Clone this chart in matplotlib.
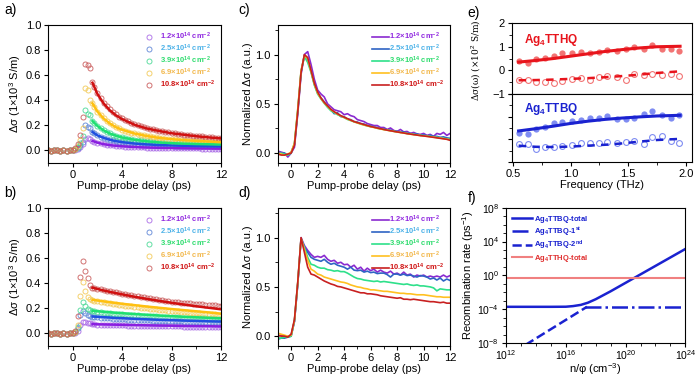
import numpy as np
import matplotlib
matplotlib.use('Agg')
import matplotlib.pyplot as plt
from matplotlib.ticker import MultipleLocator, NullFormatter, FixedLocator, FormatStrFormatter

plt.rcParams['font.family'] = ['Liberation Sans', 'DejaVu Sans']
plt.rcParams['mathtext.fontset'] = 'custom'
plt.rcParams['mathtext.rm'] = 'Liberation Sans'
plt.rcParams['mathtext.it'] = 'Liberation Sans:italic'
plt.rcParams['mathtext.bf'] = 'Liberation Sans:bold'
plt.rcParams['font.size'] = 8
plt.rcParams['axes.linewidth'] = 0.8

# fluences used in panels a-d
fluences = ['1.2', '2.5', '3.9', '6.9', '10.8']
scatter_colors = ['#a868e6', '#5c84d6', '#48d994', '#f2c955', '#c95a5a']
fit_colors = ['#8a1ee0', '#1e4fe0', '#1ee070', '#ffc010', '#d01010']
text_colors = ['#9028e0', '#4cb2e8', '#2edc6e', '#f2b84c', '#d01414']
line_colors = ['#8a2ad0', '#2f64c4', '#2ee08a', '#ffc020', '#c82020']

# ---- panels a/b: scatter (time in ps) ----
t_pre = [-2.0, -1.75, -1.5, -1.25, -1.0, -0.75, -0.5, -0.25, 0.0]
t_rise = [0.2, 0.4, 0.6, 0.8, 1.0, 1.2, 1.4, 1.6]
t_tail = list(np.arange(1.75, 12.01, 0.25))
pre_zero = [0.0, -0.005, 0.006, 0.0, -0.004, 0.005, -0.002, 0.003, 0.006]

a_rise = [
    [0.005, 0.015, 0.03, 0.05, 0.09, 0.097, 0.095, 0.075],
    [0.01, 0.02, 0.04, 0.07, 0.2, 0.185, 0.18, 0.147],
    [0.01, 0.03, 0.06, 0.115, 0.32, 0.29, 0.285, 0.235],
    [0.015, 0.035, 0.08, 0.18, 0.5, 0.485, 0.40, 0.375],
    [0.02, 0.05, 0.12, 0.27, 0.69, 0.68, 0.655, 0.545],
]
a_tail = [
    [0.07, 0.063, 0.057, 0.051, 0.046, 0.043, 0.04, 0.037, 0.035, 0.033,
     0.031, 0.03, 0.028, 0.027, 0.026, 0.025, 0.024, 0.023, 0.023, 0.022,
     0.021, 0.021, 0.02, 0.02, 0.019, 0.019, 0.018, 0.018, 0.018, 0.017,
     0.017, 0.017, 0.016, 0.016, 0.016, 0.015, 0.015, 0.015, 0.015, 0.014,
     0.014, 0.014],
    [0.135, 0.122, 0.111, 0.101, 0.093, 0.087, 0.081, 0.076, 0.071, 0.067,
     0.064, 0.061, 0.058, 0.056, 0.054, 0.052, 0.05, 0.049, 0.047, 0.046,
     0.045, 0.044, 0.043, 0.042, 0.041, 0.04, 0.039, 0.039, 0.038, 0.037,
     0.037, 0.036, 0.036, 0.035, 0.035, 0.034, 0.034, 0.033, 0.033, 0.033,
     0.032, 0.032],
    [0.22, 0.197, 0.178, 0.162, 0.148, 0.137, 0.127, 0.119, 0.111, 0.105,
     0.1, 0.095, 0.09, 0.087, 0.083, 0.08, 0.077, 0.075, 0.072, 0.07,
     0.068, 0.066, 0.064, 0.063, 0.061, 0.06, 0.059, 0.058, 0.057, 0.056,
     0.055, 0.054, 0.053, 0.052, 0.052, 0.051, 0.05, 0.05, 0.049, 0.049,
     0.048, 0.048],
    [0.35, 0.31, 0.283, 0.257, 0.235, 0.216, 0.2, 0.186, 0.175, 0.166,
     0.158, 0.15, 0.142, 0.136, 0.131, 0.126, 0.12, 0.116, 0.112, 0.108,
     0.104, 0.1, 0.098, 0.095, 0.093, 0.09, 0.088, 0.086, 0.084, 0.082,
     0.081, 0.079, 0.078, 0.076, 0.075, 0.074, 0.072, 0.071, 0.07, 0.069,
     0.067, 0.066],
    [0.505, 0.455, 0.418, 0.38, 0.352, 0.33, 0.305, 0.288, 0.27, 0.255,
     0.245, 0.232, 0.222, 0.21, 0.2, 0.195, 0.185, 0.178, 0.174, 0.168,
     0.162, 0.157, 0.153, 0.149, 0.144, 0.14, 0.137, 0.133, 0.131, 0.127,
     0.124, 0.121, 0.119, 0.116, 0.113, 0.112, 0.109, 0.107, 0.105, 0.103,
     0.101, 0.099],
]
t_fit = [1.6, 2, 2.5, 3, 3.5, 4, 5, 6, 7, 8, 9, 10, 11, 12]
a_fit = [
    [0.075, 0.062, 0.05, 0.042, 0.037, 0.033, 0.027, 0.023, 0.021, 0.019, 0.017, 0.016, 0.015, 0.014],
    [0.147, 0.12, 0.1, 0.085, 0.074, 0.066, 0.055, 0.048, 0.043, 0.04, 0.037, 0.035, 0.033, 0.032],
    [0.235, 0.195, 0.16, 0.135, 0.117, 0.103, 0.085, 0.073, 0.064, 0.058, 0.054, 0.051, 0.049, 0.047],
    [0.375, 0.31, 0.255, 0.215, 0.185, 0.165, 0.135, 0.115, 0.1, 0.09, 0.082, 0.076, 0.071, 0.066],
    [0.54, 0.45, 0.375, 0.32, 0.28, 0.25, 0.205, 0.175, 0.155, 0.137, 0.125, 0.113, 0.104, 0.096],
]

b_rise = [
    [0.005, 0.02, 0.07, 0.095, 0.09, 0.085, 0.08, 0.074],
    [0.01, 0.04, 0.15, 0.18, 0.16, 0.145, 0.14, 0.135],
    [0.01, 0.05, 0.19, 0.255, 0.22, 0.195, 0.185, 0.18],
    [0.015, 0.07, 0.3, 0.41, 0.34, 0.29, 0.275, 0.268],
    [0.02, 0.14, 0.45, 0.58, 0.5, 0.44, 0.39, 0.365],
]
b_tail = [
    [0.072, 0.071, 0.07, 0.069, 0.068, 0.067, 0.067, 0.066, 0.065, 0.065,
     0.064, 0.063, 0.063, 0.062, 0.062, 0.061, 0.061, 0.06, 0.06, 0.059,
     0.059, 0.058, 0.058, 0.058, 0.057, 0.057, 0.056, 0.056, 0.056, 0.055,
     0.055, 0.055, 0.054, 0.054, 0.054, 0.053, 0.053, 0.053, 0.052, 0.052,
     0.052, 0.051],
    [0.132, 0.129, 0.126, 0.124, 0.122, 0.12, 0.118, 0.117, 0.115, 0.114,
     0.112, 0.111, 0.11, 0.109, 0.108, 0.107, 0.106, 0.105, 0.104, 0.103,
     0.102, 0.101, 0.1, 0.1, 0.099, 0.098, 0.097, 0.097, 0.096, 0.095,
     0.095, 0.094, 0.093, 0.093, 0.092, 0.092, 0.091, 0.091, 0.09, 0.09,
     0.089, 0.089],
    [0.176, 0.172, 0.169, 0.166, 0.164, 0.161, 0.159, 0.157, 0.155, 0.153,
     0.151, 0.149, 0.148, 0.146, 0.144, 0.143, 0.141, 0.14, 0.138, 0.137,
     0.136, 0.134, 0.133, 0.132, 0.131, 0.13, 0.129, 0.128, 0.127, 0.126,
     0.125, 0.124, 0.123, 0.122, 0.122, 0.121, 0.12, 0.119, 0.119, 0.118,
     0.117, 0.117],
    [0.262, 0.257, 0.252, 0.248, 0.244, 0.24, 0.236, 0.232, 0.229, 0.226,
     0.222, 0.219, 0.216, 0.213, 0.21, 0.207, 0.204, 0.201, 0.198, 0.196,
     0.193, 0.19, 0.188, 0.185, 0.183, 0.18, 0.178, 0.176, 0.173, 0.171,
     0.169, 0.167, 0.165, 0.163, 0.161, 0.159, 0.157, 0.156, 0.154, 0.152,
     0.151, 0.149],
    [0.362, 0.356, 0.352, 0.346, 0.341, 0.337, 0.333, 0.328, 0.322, 0.318,
     0.313, 0.309, 0.304, 0.3, 0.296, 0.291, 0.287, 0.284, 0.28, 0.276,
     0.272, 0.268, 0.265, 0.262, 0.258, 0.255, 0.252, 0.25, 0.247, 0.244,
     0.242, 0.24, 0.238, 0.236, 0.234, 0.233, 0.231, 0.229, 0.227, 0.225,
     0.222, 0.22],
]
b_fit = [
    [0.074, 0.073, 0.072, 0.071, 0.07, 0.069, 0.067, 0.065, 0.063, 0.062, 0.06, 0.059, 0.058, 0.056],
    [0.135, 0.133, 0.13, 0.127, 0.124, 0.122, 0.117, 0.113, 0.109, 0.106, 0.103, 0.1, 0.097, 0.095],
    [0.18, 0.177, 0.173, 0.169, 0.165, 0.162, 0.155, 0.149, 0.143, 0.138, 0.133, 0.129, 0.125, 0.121],
    [0.268, 0.263, 0.256, 0.249, 0.243, 0.237, 0.226, 0.215, 0.205, 0.195, 0.186, 0.177, 0.168, 0.158],
    [0.365, 0.355, 0.343, 0.332, 0.322, 0.312, 0.293, 0.276, 0.26, 0.245, 0.231, 0.217, 0.205, 0.193],
]

# ---- panels c/d: normalized traces, t = -1 ... 12 ps ----
t_norm = list(np.arange(-1.0, 12.01, 0.25))
c_norm = [
    [0.02, 0.01, 0.0, -0.04, 0.0, 0.06, 0.4, 0.8,
     1.0, 1.03, 0.9, 0.75, 0.64, 0.6, 0.57, 0.5,
     0.47, 0.44, 0.43, 0.42, 0.39, 0.4, 0.38, 0.37,
     0.34, 0.33, 0.32, 0.3, 0.29, 0.28, 0.28, 0.26,
     0.26, 0.24, 0.255, 0.23, 0.22, 0.24, 0.215, 0.22,
     0.2, 0.21, 0.195, 0.19, 0.2, 0.18, 0.19, 0.17,
     0.2, 0.19, 0.21, 0.18, 0.2],
    [0.01, -0.01, 0.0, -0.02, 0.01, 0.09, 0.43, 0.83,
     0.99, 0.95, 0.83, 0.7, 0.61, 0.56, 0.52, 0.47,
     0.44, 0.4, 0.41, 0.37, 0.37, 0.345, 0.34, 0.32,
     0.315, 0.3, 0.295, 0.28, 0.275, 0.265, 0.26, 0.245,
     0.245, 0.235, 0.232, 0.222, 0.222, 0.21, 0.215, 0.2,
     0.2, 0.19, 0.195, 0.18, 0.185, 0.175, 0.18, 0.17,
     0.17, 0.16, 0.165, 0.155, 0.15],
    [-0.01, 0.0, -0.01, -0.02, 0.0, 0.1, 0.44, 0.83,
     0.98, 0.92, 0.82, 0.69, 0.6, 0.55, 0.505, 0.465,
     0.43, 0.41, 0.39, 0.375, 0.36, 0.342, 0.33, 0.318,
     0.307, 0.295, 0.285, 0.276, 0.268, 0.262, 0.252, 0.246,
     0.24, 0.235, 0.228, 0.222, 0.216, 0.212, 0.206, 0.2,
     0.196, 0.192, 0.186, 0.182, 0.178, 0.175, 0.17, 0.165,
     0.16, 0.156, 0.15, 0.145, 0.14],
    [0.0, -0.01, -0.02, -0.01, 0.01, 0.1, 0.45, 0.84,
     0.99, 0.96, 0.83, 0.7, 0.61, 0.555, 0.51, 0.475,
     0.44, 0.418, 0.395, 0.378, 0.362, 0.345, 0.333, 0.318,
     0.306, 0.296, 0.285, 0.277, 0.268, 0.26, 0.252, 0.245,
     0.238, 0.232, 0.225, 0.22, 0.214, 0.208, 0.203, 0.197,
     0.192, 0.187, 0.183, 0.178, 0.174, 0.17, 0.166, 0.162,
     0.157, 0.152, 0.147, 0.142, 0.135],
    [-0.01, -0.02, -0.02, -0.01, 0.0, 0.08, 0.42, 0.82,
     1.0, 0.97, 0.84, 0.71, 0.62, 0.56, 0.515, 0.48,
     0.445, 0.42, 0.4, 0.38, 0.365, 0.35, 0.335, 0.32,
     0.31, 0.3, 0.29, 0.28, 0.27, 0.263, 0.255, 0.248,
     0.24, 0.233, 0.227, 0.221, 0.215, 0.21, 0.204, 0.198,
     0.193, 0.188, 0.183, 0.178, 0.174, 0.17, 0.165, 0.16,
     0.155, 0.15, 0.145, 0.14, 0.13],
]
d_norm = [
    [0.0, 0.01, 0.0, 0.0, 0.01, 0.15, 0.53, 1.0,
     0.92, 0.87, 0.83, 0.8, 0.81, 0.8, 0.82, 0.78,
     0.76, 0.77, 0.74, 0.75, 0.725, 0.73, 0.7, 0.72,
     0.68, 0.7, 0.66, 0.69, 0.665, 0.68, 0.65, 0.67,
     0.65, 0.64, 0.66, 0.63, 0.64, 0.62, 0.65, 0.62,
     0.63, 0.6, 0.62, 0.61, 0.62, 0.6, 0.61, 0.6,
     0.61, 0.6, 0.62, 0.6, 0.615],
    [-0.03, -0.02, -0.02, -0.01, 0.0, 0.15, 0.53, 0.99,
     0.9, 0.85, 0.8, 0.78, 0.77, 0.76, 0.78, 0.75,
     0.73, 0.74, 0.72, 0.71, 0.7, 0.68, 0.7, 0.67,
     0.665, 0.67, 0.65, 0.66, 0.645, 0.65, 0.635, 0.64,
     0.64, 0.625, 0.6, 0.63, 0.63, 0.62, 0.63, 0.615,
     0.62, 0.61, 0.6, 0.615, 0.61, 0.6, 0.58, 0.59,
     0.57, 0.59, 0.56, 0.58, 0.565],
    [-0.02, -0.02, -0.01, -0.01, 0.0, 0.16, 0.54, 0.99,
     0.9, 0.8, 0.73, 0.72, 0.7, 0.69, 0.69, 0.675,
     0.67, 0.66, 0.665, 0.655, 0.655, 0.64, 0.62, 0.6,
     0.585, 0.58, 0.57, 0.565, 0.56, 0.555, 0.56, 0.55,
     0.555, 0.55, 0.545, 0.54, 0.535, 0.53, 0.525, 0.53,
     0.52, 0.515, 0.52, 0.51, 0.51, 0.505, 0.5, 0.49,
     0.46, 0.48, 0.475, 0.47, 0.47],
    [0.03, 0.02, 0.01, 0.0, 0.01, 0.16, 0.55, 0.99,
     0.88, 0.77, 0.68, 0.66, 0.63, 0.62, 0.6, 0.59,
     0.58, 0.57, 0.56, 0.55, 0.545, 0.535, 0.52, 0.51,
     0.5, 0.495, 0.485, 0.48, 0.47, 0.47, 0.465, 0.46,
     0.455, 0.455, 0.45, 0.445, 0.44, 0.435, 0.435, 0.43,
     0.43, 0.425, 0.42, 0.42, 0.42, 0.415, 0.41, 0.405,
     0.4, 0.4, 0.395, 0.395, 0.395],
    [0.01, 0.0, 0.0, -0.01, 0.02, 0.17, 0.55, 1.0,
     0.85, 0.7, 0.63, 0.62, 0.6, 0.58, 0.56, 0.545,
     0.53, 0.52, 0.505, 0.5, 0.49, 0.48, 0.47, 0.46,
     0.45, 0.44, 0.44, 0.43, 0.43, 0.425, 0.42, 0.41,
     0.405, 0.4, 0.395, 0.39, 0.385, 0.39, 0.375, 0.375,
     0.37, 0.375, 0.37, 0.365, 0.36, 0.355, 0.35, 0.35,
     0.345, 0.34, 0.345, 0.335, 0.335],
]

# ---- panel e: THz conductivity spectra ----
e_freq = [0.55, 0.63, 0.70, 0.78, 0.86, 0.93, 1.01, 1.09, 1.17, 1.25,
          1.32, 1.40, 1.48, 1.55, 1.64, 1.71, 1.79, 1.87, 1.94]
hq_real = [0.4, 0.3, 0.47, 0.51, 0.61, 0.72, 0.75, 0.79, 0.75, 0.78,
           0.87, 0.83, 0.91, 0.98, 0.9, 1.08, 0.9, 0.91, 0.8]
hq_imag = [-0.41, -0.41, -0.5, -0.48, -0.55, -0.44, -0.38, -0.31, -0.41, -0.27,
           -0.24, -0.3, -0.41, -0.16, -0.2, -0.16, -0.2, -0.17, -0.24]
bq_real = [0.3, 0.25, 0.47, 0.54, 0.72, 0.78, 0.82, 0.86, 0.96, 0.96,
           1.03, 0.89, 0.89, 0.96, 1.1, 1.25, 1.06, 0.96, 1.06]
bq_imag = [-0.21, -0.21, -0.43, -0.36, -0.36, -0.29, -0.27, -0.17, -0.15, -0.15,
           -0.13, -0.17, -0.13, -0.07, -0.21, 0.11, 0.15, -0.07, -0.17]
e_fit_freq = [0.55, 0.7, 0.85, 1.0, 1.15, 1.3, 1.45, 1.6, 1.75, 1.95]
hq_real_fit = [0.35, 0.42, 0.5, 0.6, 0.7, 0.8, 0.88, 0.95, 1.0, 1.02]
hq_imag_fit = [-0.42, -0.41, -0.39, -0.36, -0.33, -0.29, -0.24, -0.18, -0.11, -0.04]
bq_real_fit = [0.37, 0.47, 0.58, 0.7, 0.8, 0.88, 0.94, 0.99, 1.03, 1.06]
bq_imag_fit = [-0.28, -0.33, -0.34, -0.32, -0.28, -0.24, -0.18, -0.1, -0.03, 0.02]

# ---- panel f: recombination rates ----
n_total = [1e12, 1e15, 1e16, 3e16, 1e17, 3e17, 1e18, 1e19, 1e20, 1e22, 1e24]
rate_total = [1.9e-4, 1.9e-4, 1.95e-4, 2.3e-4, 3.2e-4, 5.8e-4, 1.5e-3, 1.3e-2, 1.3e-1, 1.3e1, 1.3e3]
n_first = [2e17, 1e24]
rate_first = [1.9e-4, 1.9e-4]
n_second = [2e13, 2.6e17]
rate_second = [6e-9, 1.9e-4]
n_hq = [1e12, 1e24]
rate_hq = [0.46, 0.46]


def fl_label(f):
    return f + '×10$^{\\mathbf{14}}$ cm$^{\\mathbf{-2}}$'


def style_axes(ax, size=8):
    ax.tick_params(which='both', direction='out', top=False, right=False, labelsize=size, pad=2)
    ax.tick_params(which='major', length=3, width=0.8)
    ax.tick_params(which='minor', length=2, width=0.6)


fig = plt.figure(figsize=(7, 3.79), dpi=100)

# panels a and b
for pos, rise, tail, fit, tag in [
        ([0.0686, 0.570, 0.247, 0.364], a_rise, a_tail, a_fit, 'a)'),
        ([0.0686, 0.087, 0.247, 0.364], b_rise, b_tail, b_fit, 'b)')]:
    ax = fig.add_axes(pos)
    ts = t_pre + t_rise + t_tail
    for i in range(5):
        ys = pre_zero + rise[i] + tail[i]
        ax.plot(ts, ys, 'o', mfc='none', mec=scatter_colors[i], ms=3.6, mew=0.7,
                alpha=0.85, label=fl_label(fluences[i]))
    for i in range(5):
        ax.plot(t_fit, fit[i], '-', color=fit_colors[i], lw=1.8)
    ax.set_xlim(-2, 12)
    ax.set_ylim(-0.1, 1.0)
    ax.xaxis.set_major_locator(MultipleLocator(4))
    ax.xaxis.set_minor_locator(MultipleLocator(2))
    ax.yaxis.set_major_locator(MultipleLocator(0.2))
    ax.yaxis.set_major_formatter(FormatStrFormatter('%.1f'))
    style_axes(ax)
    ax.set_ylabel('Δσ (1×10$^3$ S/m)', fontsize=8, labelpad=2)
    ax.set_xlabel('Pump-probe delay (ps)', fontsize=8, labelpad=1)
    ax.legend(loc='upper right', frameon=False, handletextpad=0.4,
              labelspacing=0.1, borderaxespad=0.35, prop={'weight': 'bold', 'size': 5.5},
              labelcolor=text_colors)
    fig.text(pos[0] - 0.062, pos[1] + pos[3] + 0.03, tag, fontsize=10)

# panels c and d
for pos, data, tag in [([0.397, 0.570, 0.246, 0.364], c_norm, 'c)'),
                       ([0.397, 0.087, 0.246, 0.364], d_norm, 'd)')]:
    ax = fig.add_axes(pos)
    for i in range(5):
        ax.plot(t_norm, data[i], '-', color=line_colors[i], lw=1.2, label=fl_label(fluences[i]))
    ax.set_xlim(-1, 12)
    ax.set_ylim(-0.1, 1.3)
    ax.xaxis.set_major_locator(MultipleLocator(2))
    ax.xaxis.set_minor_locator(MultipleLocator(1))
    ax.yaxis.set_major_locator(MultipleLocator(0.5))
    ax.yaxis.set_minor_locator(MultipleLocator(0.25))
    ax.yaxis.set_major_formatter(FormatStrFormatter('%.1f'))
    style_axes(ax)
    ax.set_ylabel('Normalized Δσ (a.u.)', fontsize=8, labelpad=2)
    ax.set_xlabel('Pump-probe delay (ps)', fontsize=8, labelpad=1)
    ax.legend(loc='upper right', frameon=False, handlelength=2.3, handletextpad=0.0,
              labelspacing=0.1, borderaxespad=0.35, prop={'weight': 'bold', 'size': 5.5},
              labelcolor=text_colors)
    fig.text(pos[0] - 0.057, pos[1] + pos[3] + 0.03, tag, fontsize=10)

# panel e
hq_red = '#e8141c'
hq_pink = '#f27474'
bq_blue = '#1a22d0'
bq_light = '#7f8cf2'
ax1 = fig.add_axes([0.731, 0.752, 0.257, 0.187])
ax2 = fig.add_axes([0.731, 0.5726, 0.257, 0.1794])
ax1.plot(e_freq, hq_real, 'o', color=hq_pink, ms=4.5, mec='none')
ax1.plot(e_freq, hq_imag, 'o', mfc='none', mec=hq_pink, ms=4.2, mew=0.8)
ax1.plot(e_fit_freq, hq_real_fit, '-', color=hq_red, lw=2.2)
ax1.plot(e_fit_freq, hq_imag_fit, '--', color=hq_red, lw=1.8, dashes=(3, 2.5))
ax2.plot(e_freq, bq_real, 'o', color=bq_light, ms=4.5, mec='none')
ax2.plot(e_freq, bq_imag, 'o', mfc='none', mec=bq_light, ms=4.2, mew=0.8)
ax2.plot(e_fit_freq, bq_real_fit, '-', color=bq_blue, lw=2.2)
ax2.plot(e_fit_freq, bq_imag_fit, '--', color=bq_blue, lw=1.8, dashes=(3, 2.5))
for ax in (ax1, ax2):
    ax.set_xlim(0.49, 2.05)
    ax.set_ylim(-1, 2)
    ax.xaxis.set_major_locator(MultipleLocator(0.5))
    ax.xaxis.set_minor_locator(MultipleLocator(0.25))
    ax.yaxis.set_major_locator(MultipleLocator(1))
    ax.yaxis.set_minor_locator(MultipleLocator(0.5))
    style_axes(ax)
ax1.tick_params(axis='x', which='both', labelbottom=False, length=0)
ax2.yaxis.set_major_formatter(NullFormatter())
ax2.xaxis.set_major_formatter(FormatStrFormatter('%.1f'))
ax2.set_xlabel('Frequency (THz)', fontsize=8, labelpad=1)
ax1.set_ylabel('Δσ(ω) (×10$^2$ S/m)', fontsize=6.5, family=['DejaVu Serif'])
ax1.yaxis.set_label_coords(-0.165, 0.47)
ax1.text(0.07, 0.72, 'Ag$_\\mathbf{4}$TTHQ', transform=ax1.transAxes, color=hq_red,
         fontsize=8.5, fontweight='bold')
ax2.text(0.07, 0.74, 'Ag$_\\mathbf{4}$TTBQ', transform=ax2.transAxes, color=bq_blue,
         fontsize=8.5, fontweight='bold')
fig.text(0.668, 0.955, 'e)', fontsize=10)

# panel f
axf = fig.add_axes([0.723, 0.095, 0.256, 0.357])
axf.plot(n_total, rate_total, '-', color=bq_blue, lw=1.8, label='Ag$_\\mathbf{4}$TTBQ-total')
axf.plot(n_first, rate_first, '-.', color=bq_blue, lw=1.8, label='Ag$_\\mathbf{4}$TTBQ-1$^{\\mathbf{st}}$')
axf.plot(n_second, rate_second, '--', color=bq_blue, lw=1.8, label='Ag$_\\mathbf{4}$TTBQ-2$^{\\mathbf{nd}}$')
axf.plot(n_hq, rate_hq, '-', color='#f08080', lw=1.5, label='Ag$_\\mathbf{4}$TTHQ-total')
axf.set_xscale('log')
axf.set_yscale('log')
axf.set_xlim(1e12, 1e24)
axf.set_ylim(1e-8, 1e8)
axf.xaxis.set_major_locator(FixedLocator([1e12, 1e16, 1e20, 1e24]))
axf.xaxis.set_minor_locator(FixedLocator([10.0 ** k for k in range(12, 25)]))
axf.yaxis.set_major_locator(FixedLocator([1e-8, 1e-4, 1e0, 1e4, 1e8]))
axf.yaxis.set_minor_locator(FixedLocator([10.0 ** k for k in range(-8, 9)]))
axf.xaxis.set_minor_formatter(NullFormatter())
axf.yaxis.set_minor_formatter(NullFormatter())
style_axes(axf, size=7.5)
axf.tick_params(axis='x', pad=1)
axf.set_xlabel('n/φ (cm$^{-3}$)', fontsize=8, labelpad=-1)
axf.set_ylabel('Recombination rate (ps$^{-1}$)', fontsize=8, labelpad=1)
axf.legend(loc='upper left', frameon=False, handlelength=2.6, handletextpad=0.2,
           labelspacing=0.1, borderaxespad=0.4, prop={'weight': 'bold', 'size': 5.5},
           labelcolor=[bq_blue, bq_blue, bq_blue, '#e03030'])
fig.text(0.668, 0.468, 'f)', fontsize=10)

fig.savefig('out.png', dpi=100)
